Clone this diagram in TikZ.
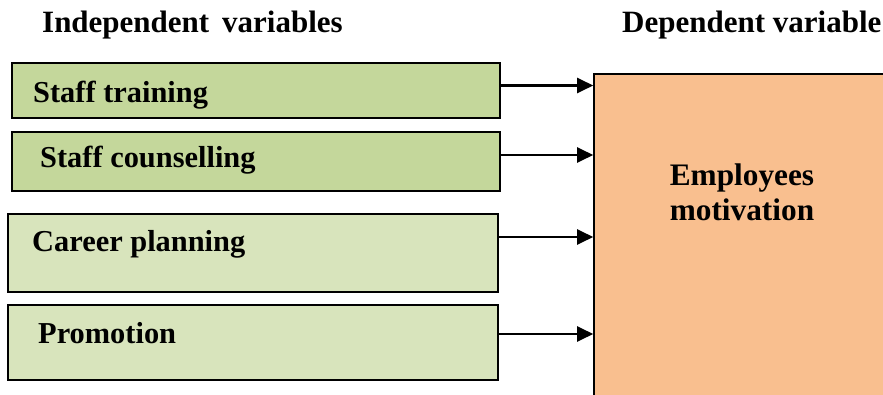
\documentclass[tikz,border=0pt]{standalone}
\usepackage{fontspec}
\setmainfont{Liberation Serif}
\usetikzlibrary{arrows.meta}
\definecolor{gdark}{HTML}{C4D79B}
\definecolor{glight}{HTML}{D8E4BC}
\definecolor{orng}{HTML}{F9BF8F}
\tikzset{
  ivbox/.style={draw=black, line width=1.6pt, rectangle, inner sep=0pt},
  lbl/.style={anchor=base west, inner sep=0pt, font=\fontsize{30.4}{34}\selectfont\bfseries},
  ttl/.style={anchor=base west, inner sep=0pt, font=\fontsize{31}{35}\selectfont\bfseries},
  arr/.style={line width=2.2pt, -{Triangle[length=16pt,width=15pt]}}
}
\begin{document}
\begin{tikzpicture}[x=1pt,y=-1pt]
\useasboundingbox (0,0) rectangle (883,395);
\clip (0,0) rectangle (883,395);
\node[ttl] (t1) at (42,33) {Independent\, variables};
\node[ttl] (t2) at (622,33) {Dependent variable};
\node[ivbox, fill=gdark, minimum width=488pt, minimum height=55pt] (b1) at (256,90.5) {};
\node[ivbox, fill=gdark, minimum width=488pt, minimum height=59pt] (b2) at (256,161.5) {};
\node[ivbox, fill=glight, minimum width=490pt, minimum height=78pt] (b3) at (253,253) {};
\node[ivbox, fill=glight, minimum width=490pt, minimum height=75pt] (b4) at (253,342.5) {};
\node[ivbox, fill=orng, minimum width=306pt, minimum height=336pt] (big) at (747,242) {};
\node[lbl] (l1) at (33,103) {Staff training};
\node[lbl] (l2) at (40,168) {Staff counselling};
\node[lbl] (l3) at (32,252) {Career planning};
\node[lbl] (l4) at (38,343) {Promotion};
\node[font=\fontsize{31.3}{35}\selectfont\bfseries, align=center, inner sep=0pt] (l5) at (742,192) {Employees\\motivation};
\path ([yshift=5pt]b1.east) coordinate (s1)
      ([yshift=6.5pt]b2.east) coordinate (s2)
      ([yshift=16pt]b3.east) coordinate (s3)
      ([yshift=8.5pt]b4.east) coordinate (s4);
\draw[arr] (s1) -- (s1 -| big.west);
\draw[arr] (s2) -- (s2 -| big.west);
\draw[arr] (s3) -- (s3 -| big.west);
\draw[arr] (s4) -- (s4 -| big.west);
\end{tikzpicture}
\end{document}
